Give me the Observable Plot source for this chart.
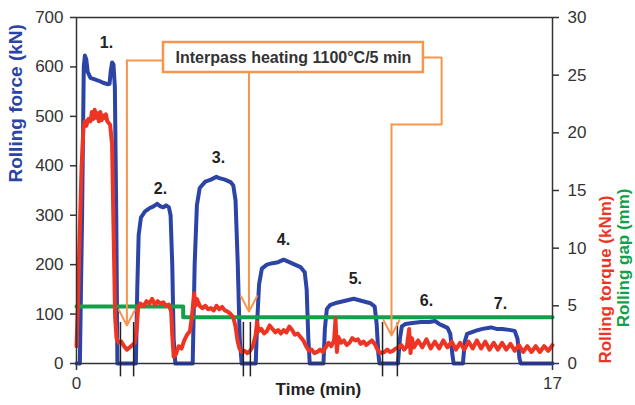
<!DOCTYPE html>
<html>
<head>
<meta charset="utf-8">
<script src="https://cdn.jsdelivr.net/npm/d3@7"></script>
<script src="https://cdn.jsdelivr.net/npm/@observablehq/plot@0.6"></script>
<style>
  html, body { margin: 0; padding: 0; background: #fff; }
</style>
</head>
<body>
<div id="chart"></div>
<script>
// ---- data ----
const forceTime = [0, 0.12, 0.2, 0.26, 0.3, 0.35, 0.4, 0.5, 0.65, 0.8, 0.95, 1.1, 1.18, 1.22, 1.27, 1.32, 1.37, 1.42, 1.46,
  2.12, 2.17, 2.22, 2.3, 2.45, 2.6, 2.75, 2.88, 3.0, 3.1, 3.2, 3.3, 3.36, 3.42, 3.47, 3.53,
  4.15, 4.22, 4.3, 4.4, 4.6, 4.8, 5.0, 5.1, 5.3, 5.5, 5.6, 5.68, 5.76, 5.83, 5.9,
  6.4, 6.45, 6.52, 6.62, 6.8, 7.0, 7.2, 7.4, 7.6, 7.8, 8.0, 8.1, 8.15, 8.22, 8.28, 8.33,
  8.82, 8.87, 8.94, 9.05, 9.3, 9.6, 9.9, 10.1, 10.3, 10.5, 10.65, 10.72, 10.78, 10.82,
  11.48, 11.55, 11.62, 11.75, 12.0, 12.3, 12.6, 12.8, 12.95, 13.1, 13.25, 13.35, 13.42, 13.47,
  13.8, 13.87, 13.95, 14.1, 14.3, 14.5, 14.8, 15.0, 15.2, 15.45, 15.65, 15.75, 15.82, 15.87, 17];
const forceKN = [0, 0, 300, 600, 623, 615, 590, 578, 575, 572, 568, 565, 566, 590, 609, 605, 560, 300, 0,
  0, 150, 260, 295, 308, 314, 318, 323, 318, 316, 320, 316, 300, 200, 50, 0,
  0, 200, 320, 355, 368, 372, 378, 375, 372, 367, 360, 330, 200, 50, 0,
  0, 80, 160, 192, 200, 203, 205, 210, 205, 200, 195, 188, 185, 150, 50, 0,
  0, 70, 110, 118, 123, 127, 131, 128, 125, 122, 115, 80, 20, 0,
  0, 50, 75, 80, 82, 84, 84, 86, 80, 76, 72, 60, 20, 0,
  0, 45, 60, 63, 67, 70, 73, 70, 70, 68, 66, 50, 10, 0, 0];

const torqueTime = [0, 0.05, 0.1, 0.18, 0.25, 0.3, 0.35, 0.42, 0.5, 0.55, 0.6, 0.65, 0.7, 0.75, 0.8, 0.85, 0.9, 0.95, 1.0, 1.05, 1.1, 1.2, 1.27, 1.32, 1.38, 1.43,
  1.5, 1.6, 1.7, 1.8, 1.9, 2.0, 2.08, 2.15, 2.2, 2.28, 2.4, 2.5, 2.6, 2.7, 2.8, 2.9, 3.0, 3.1, 3.2, 3.3, 3.38, 3.42, 3.47,
  3.55, 3.65, 3.75, 3.85, 3.95, 4.05, 4.12, 4.2, 4.25, 4.3, 4.4, 4.5, 4.6, 4.7, 4.8, 4.9, 5.0, 5.1, 5.2, 5.3, 5.4, 5.5, 5.6, 5.68, 5.75, 5.82,
  5.9, 6.0, 6.1, 6.2, 6.3, 6.4, 6.45, 6.5, 6.6, 6.7, 6.8, 6.9, 7.0, 7.1, 7.2, 7.3, 7.4, 7.5, 7.6, 7.7, 7.8, 7.9, 8.0, 8.1, 8.2, 8.3,
  8.4, 8.5, 8.6, 8.7, 8.8, 8.9, 9.0, 9.1, 9.2, 9.25, 9.3, 9.35, 9.45, 9.55, 9.65, 9.75, 9.85, 9.95, 10.05, 10.15, 10.25, 10.35, 10.45, 10.55, 10.65, 10.75, 10.85,
  11.0, 11.1, 11.2, 11.3, 11.4, 11.5, 11.6, 11.7, 11.8, 11.88, 11.93, 11.98, 12.05, 12.2, 12.35, 12.5, 12.65, 12.8, 12.95, 13.1, 13.25, 13.4, 13.55, 13.7, 13.85,
  14.0, 14.15, 14.3, 14.45, 14.6, 14.75, 14.9, 15.05, 15.2, 15.35, 15.5, 15.65, 15.8, 15.95, 16.1, 16.25, 16.4, 16.55, 16.7, 16.85, 17.0];
const torqueKNm = [1.5, 5, 10, 17, 20.5, 21, 20.6, 21.2, 21.0, 21.8, 21.2, 22, 21.3, 21.7, 21.0, 21.8, 21.1, 21.5, 21.3, 21.6, 21.0, 20.7, 19, 12, 4, 2.2,
  1.8, 1.9, 1.5, 1.2, 1.4, 1.6, 1.8, 3, 4.8, 5.2, 5.0, 5.4, 5.2, 5.6, 5.1, 5.4, 5.2, 5.3, 5.0, 5.1, 4.5, 2.5, 0.6,
  0.8, 1.5, 1.3, 2.0, 2.5, 2.8, 4, 6.1, 5.0, 5.6, 5.0, 4.8, 5.0, 4.7, 4.8, 4.6, 5.0, 4.7, 4.9, 4.6, 4.5, 4.3, 4.0, 3.2, 2.0, 1.3,
  1.0, 1.1, 0.9, 1.1, 1.5, 2.5, 3.6, 2.8, 3.0, 2.6, 2.8, 3.3, 3.0, 2.7, 2.9, 2.6, 2.9, 2.7, 3.2, 2.9, 2.5, 2.6, 2.3, 2.0, 1.5, 1.1,
  1.2, 0.9, 1.0, 1.2, 1.0, 1.4, 1.8, 1.5, 2.0, 3.9, 1.0, 2.3, 1.8, 2.0, 1.6, 1.8, 2.2, 2.0, 2.1, 1.7, 1.9, 1.6, 1.8, 2.0, 1.7, 1.2, 0.9,
  1.0, 1.2, 1.0, 1.1, 1.3, 1.4, 1.6, 1.2, 1.5, 3.0, 0.9, 2.2, 1.4, 2.0, 1.4, 2.1, 1.3, 1.9, 1.3, 2.0, 1.4, 1.9, 1.2, 1.8, 1.2,
  1.9, 1.3, 2.0, 1.3, 1.9, 1.2, 1.8, 1.2, 1.8, 1.2, 1.7, 1.1, 1.6, 1.0, 1.5, 1.0, 1.5, 1.0, 1.5, 1.1, 1.6];

const gapTime = [0, 3.81, 3.81, 17];
const gapMM = [4.95, 4.95, 4.0, 4.0];

const breakTimes = [1.57, 2.04, 5.96, 6.21, 10.93, 11.46];

const passLabels = ["1.", "2.", "3.", "4.", "5.", "6.", "7."];
const passLabelTime = [1.07, 3.0, 5.07, 7.39, 9.96, 12.5, 15.14];
const passLabelForce = [648, 354, 417, 251, 172, 127, 121];

const leftTicks = [0, 100, 200, 300, 400, 500, 600, 700];
const rightTicks = [0, 5, 10, 15, 20, 25, 30];
const xTicks = [0, 17];

const noteText = "Interpass heating 1100°C/5 min";
const noteBox = {t1: 3.107, t2: 12.39, f1: 588.7, f2: 649.4};
const noteLeftLineT = [3.107, 1.80];
const noteLeftLineF = [613, 613];
const noteRightLineT = [12.39, 13.04, 13.04, 11.25];
const noteRightLineF = [619, 619, 483.5, 483.5];
const arrowT = [1.80, 6.16, 11.25];
const arrowFromF = [613, 588.7, 483.5];
const arrowToF = [77, 105, 56.6];

// ---- chart ----
const RIGHT_MAX = 30, LEFT_MAX = 700;
const toLeft = v => v * LEFT_MAX / RIGHT_MAX;
const blue = "#2B44A6", red = "#EE3524", green = "#12A04A", orange = "#F7944E", ink = "#333";

const force = forceTime.map((t, i) => ({t, v: forceKN[i]}));
const torque = torqueTime.map((t, i) => ({t, v: torqueKNm[i]}));
const gap = gapTime.map((t, i) => ({t, v: gapMM[i]}));
const labels = passLabels.map((s, i) => ({s, t: passLabelTime[i], f: passLabelForce[i]}));
const leftLine = noteLeftLineT.map((t, i) => ({t, f: noteLeftLineF[i]}));
const rightLine = noteRightLineT.map((t, i) => ({t, f: noteRightLineF[i]}));
const arrows = arrowT.map((t, i) => ({t, f1: arrowFromF[i], f2: arrowToF[i]}));

const chart = Plot.plot({
  width: 635,
  height: 405,
  marginLeft: 76,
  marginRight: 83,
  marginTop: 17,
  marginBottom: 42,
  style: {fontFamily: "'Liberation Sans', Arial, sans-serif", color: ink, background: "#fff"},
  x: {domain: [0, 17]},
  y: {domain: [0, LEFT_MAX]},
  marks: [
    Plot.axisY(leftTicks, {anchor: "left", tickSize: 6, tickPadding: 7, fontSize: 17, stroke: ink, strokeWidth: 1.5, label: null}),
    Plot.axisY(rightTicks.map(toLeft), {anchor: "right", tickSize: 6, tickPadding: 9, fontSize: 17, stroke: ink, strokeWidth: 1.5, label: null,
      tickFormat: d => String(Math.round(d * RIGHT_MAX / LEFT_MAX))}),
    Plot.axisX(xTicks, {anchor: "bottom", tickSize: 7, tickPadding: 6, fontSize: 17, stroke: ink, strokeWidth: 1.5, label: null}),
    Plot.line(force, {x: "t", y: "v", stroke: blue, strokeWidth: 4, strokeLinejoin: "round"}),
    Plot.line(gap, {x: "t", y: d => toLeft(d.v), stroke: green, strokeWidth: 4, curve: "linear"}),
    Plot.line(torque, {x: "t", y: d => toLeft(d.v), stroke: red, strokeWidth: 4, strokeLinejoin: "round"}),
    Plot.frame({stroke: ink, strokeWidth: 1.5}),
    Plot.ruleX(breakTimes, {y1: -27, y2: 83, stroke: "#222", strokeWidth: 1.5}),
    Plot.line(leftLine, {x: "t", y: "f", stroke: orange, strokeWidth: 2}),
    Plot.line(rightLine, {x: "t", y: "f", stroke: orange, strokeWidth: 2}),
    Plot.arrow(arrows, {x1: "t", x2: "t", y1: "f1", y2: "f2", stroke: orange, strokeWidth: 2, headLength: 13, headAngle: 55}),
    Plot.rect([noteBox], {x1: "t1", x2: "t2", y1: "f1", y2: "f2", fill: "#fff", stroke: orange, strokeWidth: 2.5}),
    Plot.text([noteText], {x: (noteBox.t1 + noteBox.t2) / 2, y: (noteBox.f1 + noteBox.f2) / 2, text: d => d, fontSize: 16, fontWeight: "bold", fill: "#333"}),
    Plot.text(labels, {x: "t", y: "f", text: "s", fontSize: 16, fontWeight: "bold", fill: "#222"}),
    Plot.text(["Time (min)"], {x: 8.64, frameAnchor: "bottom", dy: 31, text: d => d, fontSize: 17, fontWeight: "bold", fill: "#222"}),
    Plot.text(["Rolling force (kN)"], {frameAnchor: "left", dx: -61, dy: -8, rotate: -90, text: d => d, fontSize: 19, fontWeight: "bold", fill: blue}),
    Plot.text(["Rolling torque (kNm)"], {frameAnchor: "right", dx: 53, dy: 5, rotate: -90, text: d => d, fontSize: 17, fontWeight: "bold", fill: red}),
    Plot.text(["Rolling gap (mm)"], {frameAnchor: "right", dx: 71, dy: -2, rotate: -90, text: d => d, fontSize: 17, fontWeight: "bold", fill: green})
  ]
});
document.getElementById("chart").appendChild(chart);
</script>
</body>
</html>
